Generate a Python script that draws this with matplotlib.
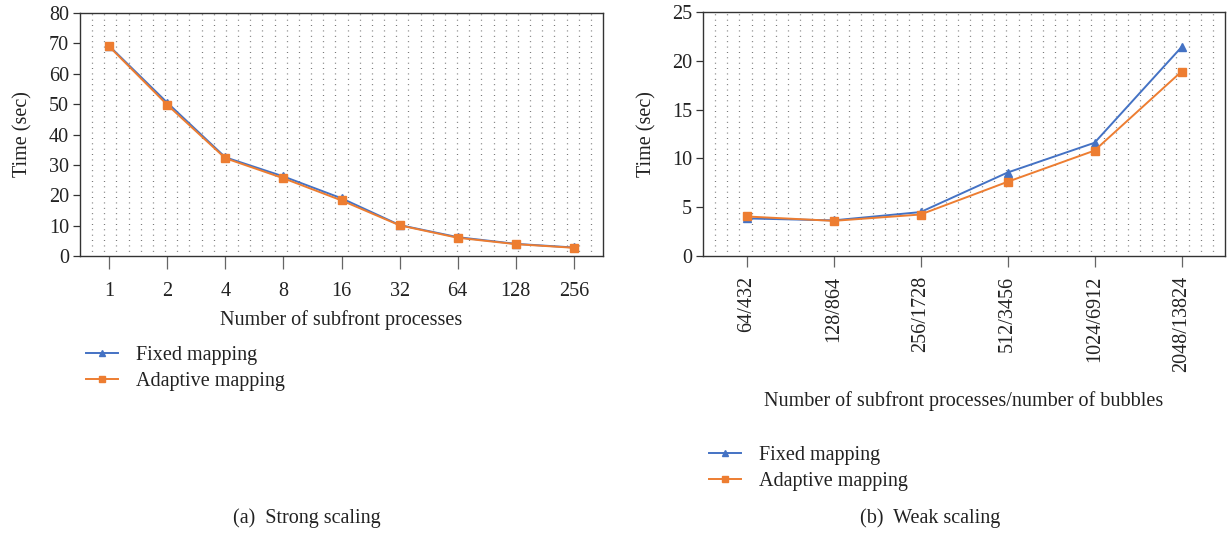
import numpy as np
import matplotlib
matplotlib.use("Agg")
import matplotlib.pyplot as plt
from matplotlib.lines import Line2D

plt.rcParams['font.family'] = ['Liberation Serif', 'DejaVu Serif']

# Strong scaling
strong_procs = ["1", "2", "4", "8", "16", "32", "64", "128", "256"]
strong_fixed = [69.2, 50.5, 32.5, 26.2, 19.0, 10.2, 6.2, 4.0, 2.8]
strong_adaptive = [69.0, 49.8, 32.2, 25.6, 18.3, 10.1, 6.0, 3.9, 2.7]

# Weak scaling
weak_procs = ["64/432", "128/864", "256/1728", "512/3456", "1024/6912", "2048/13824"]
weak_fixed = [3.85, 3.65, 4.5, 8.55, 11.6, 21.4]
weak_adaptive = [4.05, 3.6, 4.25, 7.6, 10.8, 18.9]

BLUE = "#4472C4"
ORANGE = "#ED7D31"
TXT = "#222222"
FS = 14.5

fig = plt.figure(figsize=(12.3, 5.35), dpi=100)
W, H = 1230, 535


def px_axes(x0, y0, x1, y1):
    return fig.add_axes([x0 / W, 1 - y1 / H, (x1 - x0) / W, (y1 - y0) / H])


def dot_pattern(ax):
    # fine dotted background pattern inside the plot area
    xs = np.linspace(0, 1, 44)[1:-1]
    ax.vlines(xs, 0, 1, transform=ax.transAxes, colors="#666666",
              linewidth=0.9, linestyles=(0.5, (0.7, 3.6)), zorder=0)


def style(ax):
    for s in ax.spines.values():
        s.set_color("#333333")
        s.set_linewidth(1.0)
    ax.tick_params(axis="y", length=5, width=0.9, colors="#333333",
                   labelcolor=TXT, labelsize=FS, pad=3)
    ax.tick_params(axis="x", length=9, width=0.9, colors="#666666",
                   labelcolor=TXT, labelsize=FS, pad=10)


# ---- (a) strong scaling ----
ax1 = px_axes(80, 13, 603, 256)
dot_pattern(ax1)
x1 = np.arange(len(strong_procs))
ax1.plot(x1, strong_fixed, color=BLUE, marker="^", markersize=6, linewidth=1.4, zorder=3)
ax1.plot(x1, strong_adaptive, color=ORANGE, marker="s", markersize=6, linewidth=1.4, zorder=4)
ax1.set_xlim(-0.5, len(strong_procs) - 0.5)
ax1.set_ylim(0, 80)
ax1.set_yticks(np.arange(0, 81, 10))
ax1.set_xticks(x1)
ax1.set_xticklabels(strong_procs)
style(ax1)
ax1.set_ylabel("Time (sec)", fontsize=FS, color=TXT, labelpad=12)
ax1.set_xlabel("Number of subfront processes", fontsize=FS, color=TXT, labelpad=6)

handles = [
    Line2D([], [], color=BLUE, marker="^", markersize=5, linewidth=1.4),
    Line2D([], [], color=ORANGE, marker="s", markersize=5, linewidth=1.4),
]
labels = ["Fixed mapping", "Adaptive mapping"]
fig.legend(handles, labels, loc="upper left", bbox_to_anchor=(68 / W, 1 - 328 / H),
           frameon=False, fontsize=FS, handlelength=1.6, handletextpad=0.9,
           labelspacing=0.35, labelcolor=TXT)
fig.text(307 / W, 1 - 518 / H, "(a)  Strong scaling", ha="center", va="center",
         fontsize=FS, color=TXT)

# ---- (b) weak scaling ----
ax2 = px_axes(703, 12, 1225, 256)
dot_pattern(ax2)
x2 = np.arange(len(weak_procs))
ax2.plot(x2, weak_fixed, color=BLUE, marker="^", markersize=6, linewidth=1.4, zorder=3)
ax2.plot(x2, weak_adaptive, color=ORANGE, marker="s", markersize=6, linewidth=1.4, zorder=4)
ax2.set_xlim(-0.5, len(weak_procs) - 0.5)
ax2.set_ylim(0, 25)
ax2.set_yticks(np.arange(0, 26, 5))
ax2.set_xticks(x2)
ax2.set_xticklabels(weak_procs, rotation=90)
style(ax2)
ax2.tick_params(axis="x", length=8, pad=6)
ax2.set_ylabel("Time (sec)", fontsize=FS, color=TXT, labelpad=11)
ax2.set_xlabel("Number of subfront processes/number of bubbles", fontsize=FS,
               color=TXT, labelpad=14)

fig.legend(handles, labels, loc="upper left", bbox_to_anchor=(691 / W, 1 - 428 / H),
           frameon=False, fontsize=FS, handlelength=1.6, handletextpad=0.9,
           labelspacing=0.35, labelcolor=TXT)
fig.text(930 / W, 1 - 518 / H, "(b)  Weak scaling", ha="center", va="center",
         fontsize=FS, color=TXT)

fig.savefig("out.png", dpi=100)
